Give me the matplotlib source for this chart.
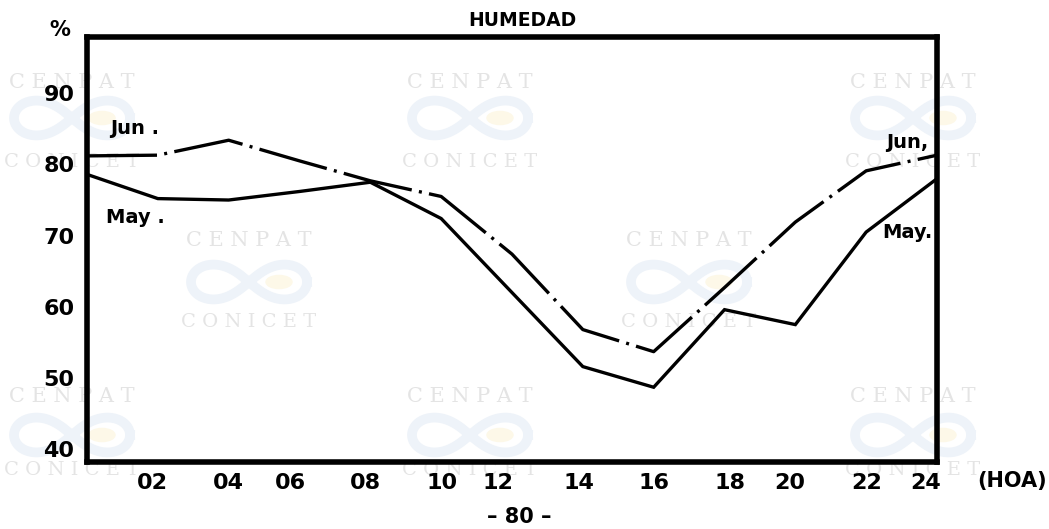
import numpy as np
import matplotlib.pyplot as plt
from matplotlib.lines import Line2D

# datos (humedad relativa %, cada 2 horas)
horas = [0, 2, 4, 6, 8, 10, 12, 14, 16, 18, 20, 22, 24]
mayo = [78.6, 75.2, 75.0, 76.2, 77.5, 72.4, 62.0, 51.6, 48.7, 59.6, 57.5, 70.5, 78.0]
junio = [81.2, 81.3, 83.4, 80.5, 77.7, 75.5, 67.4, 56.8, 53.7, 62.7, 71.9, 79.1, 81.3]

# etiquetas del eje x (escritas a maquina, posiciones algo irregulares)
xtick_pos = [1.84, 3.98, 5.73, 7.85, 10.02, 11.6, 13.89, 16.01, 18.15, 19.85, 22.02, 23.69]
xtick_lab = ['02', '04', '06', '08', '10', '12', '14', '16', '18', '20', '22', '24']
yticks = [40, 50, 60, 70, 80, 90]

W, H = 1049, 529
fig = plt.figure(figsize=(W / 100, H / 100), dpi=100)
fig.patch.set_facecolor('white')

def fx(x):
    return x / W

def fy(y):
    return 1 - y / H

## marca de agua (CENPAT / CONICET)
wm_grey = '#e4e4e4'
def logo(cx, cy):
    t = np.linspace(0, 2 * np.pi, 200)
    a = 58
    lx = cx + a * np.cos(t) / (1 + np.sin(t) ** 2)
    ly = cy + 0.85 * a * np.sin(t) * np.cos(t) / (1 + np.sin(t) ** 2)
    fig.add_artist(Line2D(fx(lx), fy(ly), color='#eef3f9', lw=7, zorder=-2,
                          transform=fig.transFigure))
    fig.add_artist(plt.Circle((fx(cx + 30), fy(cy)), 13 / W, color='#fdf8e8',
                              zorder=-2, transform=fig.transFigure))

def marca(cx, y1, y2, ylogo):
    fig.text(fx(cx), fy(y1), 'C E N P A T', family='DejaVu Serif', fontsize=15,
             color=wm_grey, ha='center', va='center', zorder=-1)
    fig.text(fx(cx), fy(y2), 'C O N I C E T', family='DejaVu Serif', fontsize=14,
             color=wm_grey, ha='center', va='center', zorder=-1)
    logo(cx, ylogo)

for cx in [72, 470, 913]:
    marca(cx, 82, 162, 118)
    marca(cx, 397, 470, 435)
for cx in [249, 689]:
    marca(cx, 240, 322, 282)

## grafico
ax = fig.add_axes([fx(87), fy(462), fx(937 - 87), (462 - 37) / H])
ax.patch.set_alpha(0)

ax.plot(horas, mayo, color='black', lw=2.4, solid_joinstyle='miter')
ax.plot(horas, junio, color='black', lw=2.4, dashes=(21, 2.2, 0.9, 2.2),
        solid_joinstyle='miter')

ax.set_xlim(0, 24)
ax.set_ylim(38.2, 97.9)
for s in ax.spines.values():
    s.set_linewidth(4)
ax.set_xticks(xtick_pos, xtick_lab)
ax.set_yticks(yticks, [str(v) for v in yticks])
ax.tick_params(axis='x', length=0, pad=8, labelsize=16)
ax.tick_params(axis='y', length=0, pad=9, labelsize=16)
for lab in ax.get_xticklabels() + ax.get_yticklabels():
    lab.set_fontweight('bold')

# textos
bold = dict(fontweight='bold', color='black', ha='center', va='center')
fig.text(fx(522), fy(20), 'HUMEDAD', fontsize=13.5, **bold)
fig.text(fx(60), fy(30), '%', fontsize=15, **bold)
fig.text(fx(1012), fy(481), '(HOA)', fontsize=15, **bold)
fig.text(fx(519), fy(517), '– 80 –', fontsize=15, **bold)
fig.text(fx(135), fy(129), 'Jun .', fontsize=14, **bold)
fig.text(fx(135), fy(218), 'May .', fontsize=14, **bold)
fig.text(fx(907), fy(143), 'Jun,', fontsize=14, **bold)
fig.text(fx(907), fy(233), 'May.', fontsize=14, **bold)

plt.savefig('out.png', dpi=100)
